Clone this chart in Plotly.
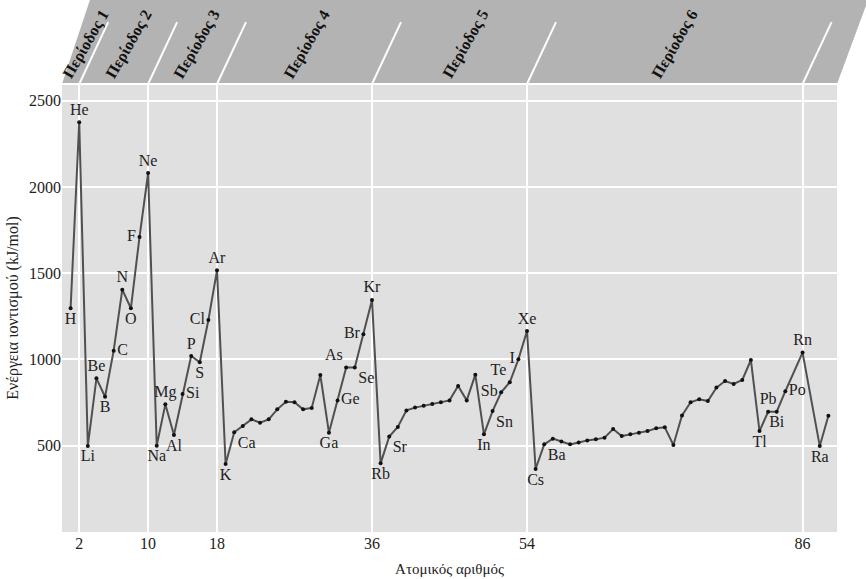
import plotly.graph_objects as go

# ατομικός αριθμός (At=85 και Fr=87 λείπουν στο γράφημα)
z = list(range(1, 85)) + [86, 88, 89]
symbols = ["H", "He", "Li", "Be", "B", "C", "N", "O", "F", "Ne",
           "Na", "Mg", "Al", "Si", "P", "S", "Cl", "Ar",
           "K", "Ca", "Sc", "Ti", "V", "Cr", "Mn", "Fe", "Co", "Ni", "Cu", "Zn",
           "Ga", "Ge", "As", "Se", "Br", "Kr",
           "Rb", "Sr", "Y", "Zr", "Nb", "Mo", "Tc", "Ru", "Rh", "Pd", "Ag", "Cd",
           "In", "Sn", "Sb", "Te", "I", "Xe",
           "Cs", "Ba", "La", "Ce", "Pr", "Nd", "Pm", "Sm", "Eu", "Gd", "Tb", "Dy",
           "Ho", "Er", "Tm", "Yb", "Lu", "Hf", "Ta", "W", "Re", "Os", "Ir", "Pt",
           "Au", "Hg", "Tl", "Pb", "Bi", "Po", "Rn", "Ra", "Ac"]
# ενέργεια ιοντισμού kJ/mol (εκτίμηση από την εικόνα)
ie = [1297, 2375, 499, 891, 784, 1051, 1405, 1297, 1710, 2081,
      500, 740, 562, 800, 1020, 984, 1229, 1517,
      394, 578, 614, 653, 634, 653, 711, 755, 752, 711, 719, 910,
      576, 763, 953, 953, 1146, 1345,
      398, 553, 609, 705, 721, 732, 742, 752, 763, 846, 763, 912,
      566, 701, 810, 868, 1001, 1165,
      365, 508, 541, 525, 508, 519, 531, 537, 547, 597, 556, 566,
      576, 585, 601, 607, 504, 676, 752, 769, 759, 837, 875, 858,
      881, 997, 585, 697, 697, 816, 1040, 498, 674]

# ποια στοιχεία έχουν ετικέτα και πού
labelled = {
    "H": "bottom center", "He": "top center", "Li": "bottom center", "Be": "top center",
    "B": "bottom center", "C": "middle right", "N": "top center", "O": "bottom center",
    "F": "middle left", "Ne": "top center", "Na": "bottom center", "Mg": "top center",
    "Al": "bottom center", "Si": "middle right", "P": "top center", "S": "bottom center",
    "Cl": "middle left", "Ar": "top center", "K": "bottom center", "Ca": "bottom right",
    "Ga": "bottom center", "Ge": "middle right", "As": "top left", "Se": "bottom right",
    "Br": "middle left", "Kr": "top center", "Rb": "bottom center", "Sr": "bottom right",
    "In": "bottom center", "Sn": "bottom right", "Sb": "middle left", "Te": "top left",
    "I": "middle left", "Xe": "top center", "Cs": "bottom center", "Ba": "bottom right",
    "Tl": "bottom center", "Pb": "top center", "Bi": "bottom center", "Po": "middle right",
    "Rn": "top center", "Ra": "bottom center",
}

period_edges = [2, 10, 18, 36, 54, 86]
period_names = ["Περίοδος 1", "Περίοδος 2", "Περίοδος 3", "Περίοδος 4", "Περίοδος 5", "Περίοδος 6"]
period_label_x = [2.8, 7.8, 15.7, 28.5, 46.9, 71.2]
y_ticks = [500, 1000, 1500, 2000, 2500]

FONT = "Liberation Serif"

txt = [s if s in labelled else "" for s in symbols]
pos = [labelled.get(s, "top center") for s in symbols]

fig = go.Figure()
fig.add_trace(go.Scatter(
    x=z, y=ie, mode="lines+markers+text",
    text=txt, textposition=pos,
    textfont=dict(family=FONT, size=16, color="#222"),
    line=dict(color="#505050", width=2),
    marker=dict(color="#111", size=4),
    cliponaxis=False,
    hoverinfo="x+y",
))

shapes = []
# γκρι ζώνη με τις περιόδους
shapes.append(dict(type="path", xref="paper", yref="paper",
                   path="M 0,1 L 0.036,1.1875 L 1.04,1.1875 L 1,1 Z",
                   fillcolor="#b3b3b3", line=dict(width=0), layer="below"))
shapes.append(dict(type="line", xref="paper", yref="paper", x0=0, x1=1, y0=1, y1=1,
                   line=dict(color="white", width=2)))
for e in period_edges:
    shapes.append(dict(type="line", xref="x", yref="paper", xsizemode="pixel", xanchor=e,
                       x0=0, x1=29, y0=1, y1=1.138, line=dict(color="white", width=2)))

annotations = []
for name, px in zip(period_names, period_label_x):
    annotations.append(dict(x=px, y=1.089, xref="x", yref="paper", text="<b>" + name + "</b>",
                            showarrow=False, textangle=-60, xanchor="center", yanchor="middle",
                            font=dict(family=FONT, size=16, color="#111")))

fig.update_layout(
    width=866, height=579,
    margin=dict(l=62, r=29, t=84, b=47, autoexpand=False),
    paper_bgcolor="white",
    plot_bgcolor="#e0e0e0",
    showlegend=False,
    shapes=shapes,
    annotations=annotations,
    font=dict(family=FONT, size=16, color="#222"),
)
fig.update_xaxes(range=[0, 90], tickvals=period_edges, showgrid=True, gridcolor="white",
                 gridwidth=2, zeroline=False, showline=False, ticks="", automargin=False,
                 tickfont=dict(family=FONT, size=16),
                 title=dict(text="Ατομικός αριθμός", font=dict(family=FONT, size=15), standoff=12))
fig.update_yaxes(range=[0, 2597], tickvals=y_ticks, showgrid=True, gridcolor="white",
                 gridwidth=2, zeroline=False, showline=False, ticks="", automargin=False,
                 tickfont=dict(family=FONT, size=16),
                 title=dict(text="Ενέργεια ιοντισμού (kJ/mol)", font=dict(family=FONT, size=16), standoff=6))

fig.write_html("out.html", config={"displayModeBar": False},
               post_script="document.body.style.margin='0';")
